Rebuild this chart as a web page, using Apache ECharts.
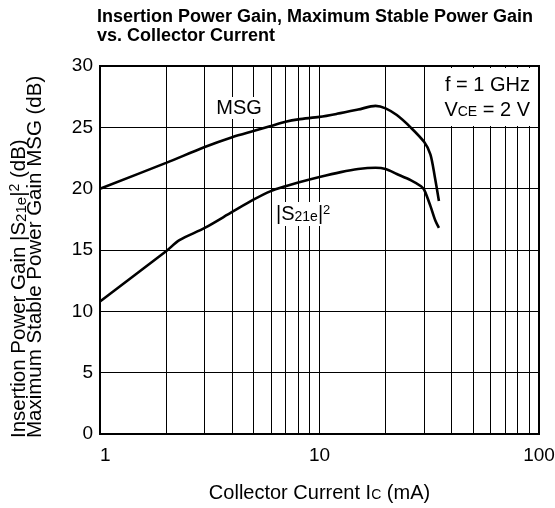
<!DOCTYPE html>
<html>
<head>
<meta charset="utf-8">
<script src="https://cdn.jsdelivr.net/npm/echarts@6/dist/echarts.min.js"></script>
<style>
  html, body { margin: 0; padding: 0; background: #fff; }
  #main { width: 555px; height: 508px; }
</style>
</head>
<body>
<div id="main"></div>
<script>
// MSG curve
const msgCurrent = [1, 2, 3, 4, 5, 6, 7, 8, 10, 12, 15, 18, 20, 22.5, 26, 30, 32, 33.5, 35];
const msgGain = [20.0, 22.1, 23.4, 24.2, 24.7, 25.1, 25.45, 25.65, 25.85, 26.1, 26.45, 26.75, 26.55, 26.0, 25.0, 23.8, 22.8, 21.0, 19.0];

// |S21e|^2 curve
const s21Current = [1, 2, 2.3, 3, 4, 5, 6, 7, 8, 10, 12.5, 15, 18, 20, 22.5, 26, 29, 30, 32, 33.7, 35];
const s21Gain = [10.8, 14.9, 15.8, 16.8, 18.1, 19.1, 19.8, 20.2, 20.5, 20.95, 21.35, 21.6, 21.7, 21.6, 21.2, 20.7, 20.2, 19.9, 18.6, 17.4, 16.8];

// log grid lines between the decades
const minorGrid = [2, 3, 4, 5, 6, 7, 8, 9, 20, 30, 40, 50, 60, 70, 80, 90];

const FONT = "'Liberation Sans', Arial, Helvetica, sans-serif";

const zip = (xs, ys) => xs.map((x, i) => [x, ys[i]]);

var myChart = echarts.init(document.getElementById('main'));

const option = {
  animation: false,
  backgroundColor: '#fff',
  title: {
    text: 'Insertion Power Gain, Maximum Stable Power Gain\nvs. Collector Current',
    left: 97,
    top: 8,
    padding: 0,
    textStyle: {
      fontFamily: FONT,
      fontSize: 18,
      fontWeight: 'bold',
      lineHeight: 19,
      color: '#000'
    }
  },
  grid: {
    left: 100,
    right: 16,
    top: 66,
    bottom: 74,
    show: true,
    borderColor: '#000',
    borderWidth: 2,
    containLabel: false,
    outerBoundsMode: 'none'
  },
  xAxis: {
    type: 'log',
    logBase: 10,
    min: 1,
    max: 100,
    name: 'Collector Current I{s|C} (mA)',
    nameLocation: 'middle',
    nameGap: 59,
    nameTextStyle: {
      fontFamily: FONT,
      fontSize: 20,
      color: '#000',
      verticalAlign: 'middle',
      rich: {
        s: { fontFamily: FONT, fontSize: 14, color: '#000', verticalAlign: 'bottom', padding: [0, 0, 1, 0] }
      }
    },
    axisLine: { show: true, lineStyle: { color: '#000', width: 2 } },
    axisTick: { show: false },
    axisLabel: {
      fontFamily: FONT,
      fontSize: 19,
      color: '#000',
      margin: 12,
      alignMinLabel: 'left'
    },
    splitLine: { show: true, lineStyle: { color: '#000', width: 1 } }
  },
  yAxis: {
    type: 'value',
    min: 0,
    max: 30,
    interval: 5,
    axisLine: { show: true, lineStyle: { color: '#000', width: 2 } },
    axisTick: { show: false },
    axisLabel: {
      fontFamily: FONT,
      fontSize: 19,
      color: '#000',
      margin: 7
    },
    splitLine: { show: true, lineStyle: { color: '#000', width: 1 } }
  },
  graphic: [
    // y axis name, two rotated lines
    {
      type: 'text',
      z: 100,
      x: 19,
      y: 438,
      rotation: Math.PI / 2,
      style: {
        text: 'Insertion Power Gain |S{s|21e}|{p|2} (dB)',
        font: '20.5px ' + FONT,
        fill: '#000',
        align: 'left',
        verticalAlign: 'middle',
        rich: {
          s: { fontSize: 15, fontFamily: FONT, verticalAlign: 'bottom' },
          p: { fontSize: 14, fontFamily: FONT, verticalAlign: 'top' }
        }
      }
    },
    {
      type: 'text',
      z: 100,
      x: 35,
      y: 438,
      rotation: Math.PI / 2,
      style: {
        text: 'Maximum Stable Power Gain MSG (dB)',
        font: '20.5px ' + FONT,
        fill: '#000',
        align: 'left',
        verticalAlign: 'middle'
      }
    },
    // condition box, top right
    {
      type: 'rect',
      z: 90,
      shape: { x: 428, y: 68, width: 109, height: 58 },
      style: { fill: '#fff' }
    },
    {
      type: 'text',
      z: 100,
      x: 530,
      y: 85,
      style: {
        text: 'f = 1 GHz',
        font: '20px ' + FONT,
        fill: '#000',
        align: 'right',
        verticalAlign: 'middle'
      }
    },
    {
      type: 'text',
      z: 100,
      x: 530,
      y: 110,
      style: {
        text: 'V{s|CE} = 2 V',
        font: '20px ' + FONT,
        fill: '#000',
        align: 'right',
        verticalAlign: 'middle',
        rich: {
          s: { fontSize: 14, fontFamily: FONT, verticalAlign: 'bottom', padding: [0, 0, 1, 0] }
        }
      }
    },
    // curve labels
    {
      type: 'text',
      z: 100,
      x: 239,
      y: 108,
      style: {
        text: 'MSG',
        font: '20px ' + FONT,
        fill: '#000',
        align: 'center',
        verticalAlign: 'middle',
        backgroundColor: '#fff',
        padding: [1, 2, 1, 2]
      }
    },
    {
      type: 'text',
      z: 100,
      x: 275,
      y: 214,
      style: {
        text: '|S{s|21e}|{p|2}',
        font: '20px ' + FONT,
        fill: '#000',
        align: 'left',
        verticalAlign: 'middle',
        backgroundColor: '#fff',
        padding: [2, 1, 2, 1],
        rich: {
          s: { fontSize: 14, fontFamily: FONT, verticalAlign: 'bottom' },
          p: { fontSize: 13, fontFamily: FONT, verticalAlign: 'top' }
        }
      }
    }
  ],
  series: [
    {
      name: 'MSG',
      type: 'line',
      data: zip(msgCurrent, msgGain),
      smooth: 0.3,
      showSymbol: false,
      z: 5,
      lineStyle: { color: '#000', width: 2.6 },
      markLine: {
        silent: true,
        symbol: 'none',
        label: { show: false },
        lineStyle: { color: '#000', width: 1, type: 'solid' },
        data: minorGrid.map(v => ({ xAxis: v }))
      }
    },
    {
      name: '|S21e|2',
      type: 'line',
      data: zip(s21Current, s21Gain),
      smooth: 0.3,
      showSymbol: false,
      z: 5,
      lineStyle: { color: '#000', width: 2.6 }
    }
  ]
};

myChart.setOption(option);
</script>
</body>
</html>
